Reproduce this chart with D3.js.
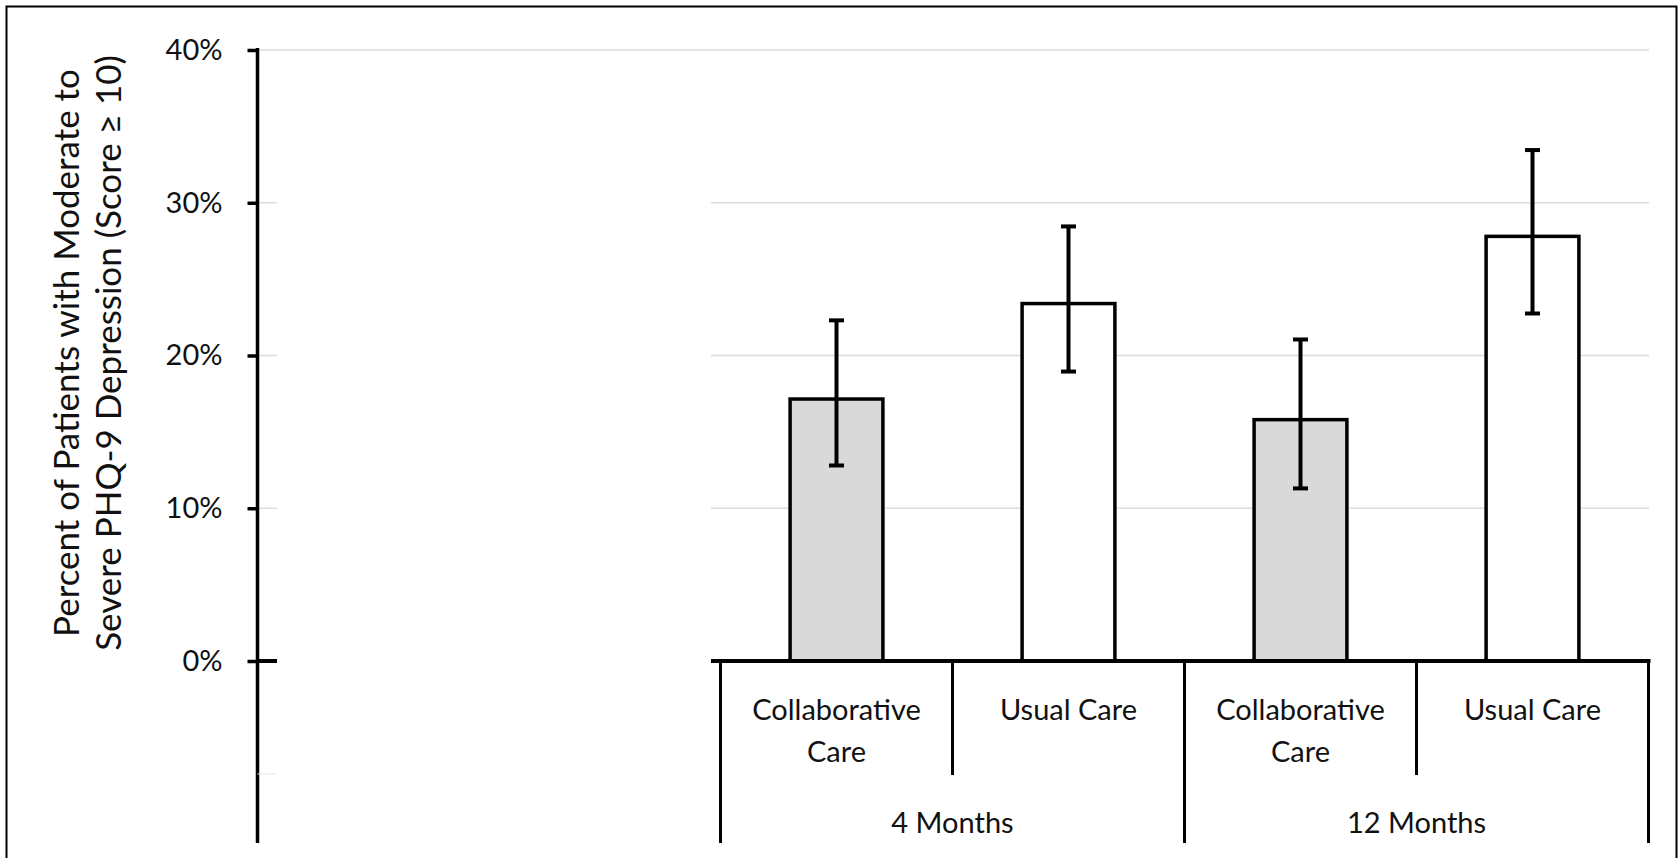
<!DOCTYPE html>
<html>
<head>
<meta charset="utf-8">
<script src="https://cdn.jsdelivr.net/npm/d3@7"></script>
<style>
  html, body { margin: 0; padding: 0; background: #fff; }
  svg { display: block; }
  text { font-family: Lato, "Noto Sans", sans-serif; fill: #111; }
</style>
</head>
<body>
<svg id="chart"></svg>
<script>
// data (percent)
const groups = ["4 Months", "12 Months"];
const arms = ["Collaborative Care", "Usual Care"];
const armLines = [["Collaborative", "Care"], ["Usual Care"]];
const values = [17.15, 23.4, 15.8, 27.8];
const ciLow = [12.8, 18.95, 11.3, 22.75];
const ciHigh = [22.3, 28.45, 21.05, 33.45];
const yTicks = [0, 10, 20, 30, 40];

const W = 1679, H = 858;
const svg = d3.select("#chart").attr("width", W).attr("height", H);

// frame
svg.append("rect")
    .attr("x", 6.5).attr("y", 6.5)
    .attr("width", 1670).attr("height", 880)
    .attr("fill", "none").attr("stroke", "#000").attr("stroke-width", 2);

const axisX = 257.5, baseY = 661, axisBottom = 843;
const plotLeft = 711, plotRight = 1649;

var y = d3.scaleLinear().domain([0, 40]).range([baseY, 50]);

// one band per bar
var cats = [];
groups.forEach(function(g) {
    arms.forEach(function(a, j) { cats.push({group: g, arm: a, arm_i: j}); });
});
cats.forEach(function(c, i) {
    c.value = values[i]; c.lo = ciLow[i]; c.hi = ciHigh[i]; c.i = i;
});

var x = d3.scaleBand()
    .domain(cats.map(function(d) { return d.i; }))
    .range([720.5, 1648.5])
    .padding(0);
var barW = x.bandwidth() * 0.4;

// gridlines
svg.append("g").attr("class", "grid")
    .selectAll("line")
    .data(yTicks.filter(function(d) { return d > 0; }))
    .enter().append("line")
    .attr("x1", function(d) { return d === 40 ? axisX : plotLeft; })
    .attr("x2", plotRight)
    .attr("y1", function(d) { return y(d); })
    .attr("y2", function(d) { return y(d); })
    .attr("stroke", "#dcdcdc").attr("stroke-width", 1.5);

// little stubs right of the axis
svg.append("g")
    .selectAll("line")
    .data([10, 20, 30])
    .enter().append("line")
    .attr("x1", axisX).attr("x2", 277)
    .attr("y1", function(d) { return y(d); })
    .attr("y2", function(d) { return y(d); })
    .attr("stroke", "#dcdcdc").attr("stroke-width", 1.5);

// bars
svg.append("g").selectAll("rect")
    .data(cats)
    .enter().append("rect")
    .attr("x", function(d) { return x(d.i) + (x.bandwidth() - barW) / 2; })
    .attr("y", function(d) { return y(d.value); })
    .attr("width", barW)
    .attr("height", function(d) { return baseY - y(d.value); })
    .attr("fill", function(d) { return d.arm_i === 0 ? "#d9d9d9" : "#fff"; })
    .attr("stroke", "#000").attr("stroke-width", 3.5);

// error bars
var err = svg.append("g").selectAll("g")
    .data(cats)
    .enter().append("g")
    .attr("transform", function(d) { return "translate(" + (x(d.i) + x.bandwidth() / 2) + ",0)"; });

err.append("line")
    .attr("y1", function(d) { return y(d.lo); })
    .attr("y2", function(d) { return y(d.hi); })
    .attr("stroke", "#000").attr("stroke-width", 4);

err.selectAll("line.cap")
    .data(function(d) { return [d.lo, d.hi]; })
    .enter().append("line")
    .attr("class", "cap")
    .attr("x1", -7.5).attr("x2", 7.5)
    .attr("y1", function(v) { return y(v); })
    .attr("y2", function(v) { return y(v); })
    .attr("stroke", "#000").attr("stroke-width", 4);

// y axis
var yAxis = svg.append("g")
    .attr("transform", "translate(" + axisX + ",0)")
    .call(d3.axisLeft(y)
        .tickValues(yTicks)
        .tickSize(10)
        .tickSizeOuter(0)
        .tickPadding(25)
        .tickFormat(function(d) { return d + "%"; }));

yAxis.select(".domain").remove();
yAxis.selectAll(".tick line").attr("stroke", "#000").attr("stroke-width", 3.5);
yAxis.selectAll(".tick text")
    .style("font-family", "Lato, sans-serif")
    .style("font-size", "29px")
    .attr("fill", "#111");

svg.append("line")
    .attr("x1", axisX).attr("x2", axisX)
    .attr("y1", y(40) - 2).attr("y2", axisBottom)
    .attr("stroke", "#000").attr("stroke-width", 3.5);

// 0% tick reaches across the axis
svg.append("line")
    .attr("x1", axisX).attr("x2", 277)
    .attr("y1", baseY).attr("y2", baseY)
    .attr("stroke", "#000").attr("stroke-width", 4);

// faint level divider stub
svg.append("line")
    .attr("x1", axisX).attr("x2", 277)
    .attr("y1", 774).attr("y2", 774)
    .attr("stroke", "#e6e6e6").attr("stroke-width", 1);

// category axis baseline
svg.append("line")
    .attr("x1", plotLeft).attr("x2", 1650.5)
    .attr("y1", baseY).attr("y2", baseY)
    .attr("stroke", "#000").attr("stroke-width", 4);

// dividers: inner ones stop at level 1, outer ones run to the bottom
var dividers = d3.range(cats.length + 1).map(function(k) {
    return {x: k < cats.length ? x(k) : x(cats.length - 1) + x.bandwidth(), outer: k % 2 === 0};
});
svg.append("g").selectAll("line")
    .data(dividers)
    .enter().append("line")
    .attr("x1", function(d) { return d.x; })
    .attr("x2", function(d) { return d.x; })
    .attr("y1", baseY)
    .attr("y2", function(d) { return d.outer ? axisBottom : 775; })
    .attr("stroke", "#000").attr("stroke-width", 3);

// arm labels
var lab = svg.append("g").selectAll("text")
    .data(cats)
    .enter().append("text")
    .attr("text-anchor", "middle")
    .style("font-size", "29px")
    .attr("x", function(d) { return x(d.i) + x.bandwidth() / 2; })
    .attr("y", 720);

lab.selectAll("tspan")
    .data(function(d) { return armLines[d.arm_i].map(function(t) { return {t: t, cx: x(d.i) + x.bandwidth() / 2}; }); })
    .enter().append("tspan")
    .attr("x", function(d) { return d.cx; })
    .attr("dy", function(d, k) { return k === 0 ? 0 : 42; })
    .text(function(d) { return d.t; });

// group labels
svg.append("g").selectAll("text")
    .data(groups)
    .enter().append("text")
    .attr("text-anchor", "middle")
    .style("font-size", "29px")
    .attr("x", function(d, k) { return x(k * 2) + x.bandwidth(); })
    .attr("y", 833)
    .text(function(d) { return d; });

// y title
var title = svg.append("text")
    .attr("transform", "translate(79,353) rotate(-90)")
    .attr("text-anchor", "middle")
    .style("font-size", "35px");
title.append("tspan").attr("x", 0).attr("dy", 0).text("Percent of Patients with Moderate to");
title.append("tspan").attr("x", 0).attr("dy", 42).text("Severe PHQ-9 Depression (Score \u2265 10)");
</script>
</body>
</html>
